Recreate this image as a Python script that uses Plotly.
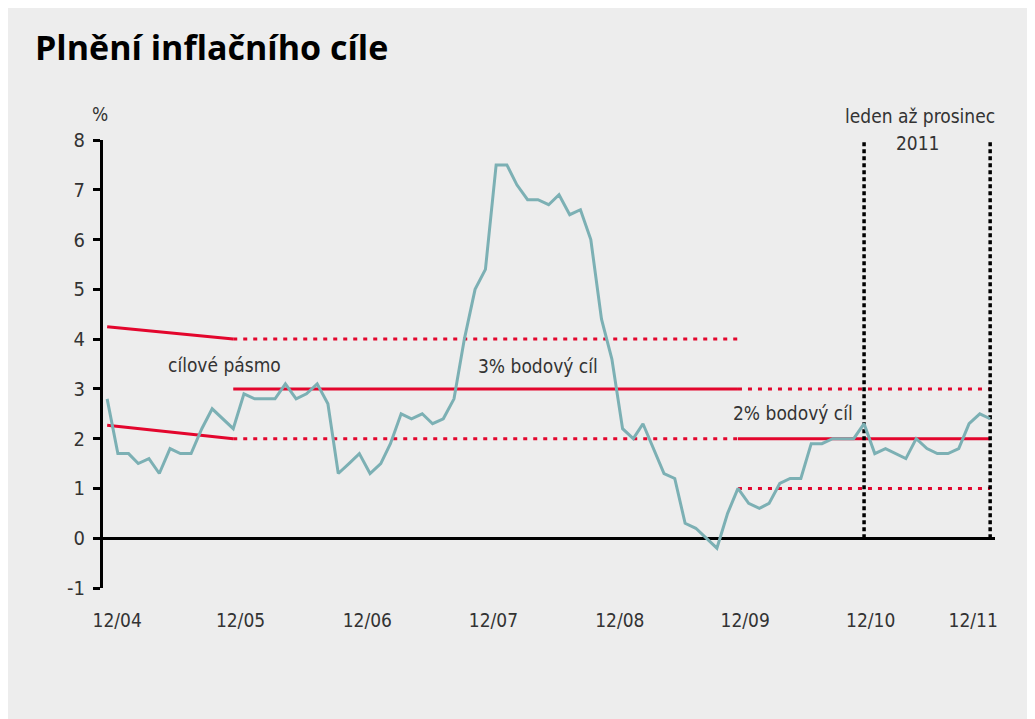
import plotly.graph_objects as go

# ---- data ----
months = ["2004-12-01"] + [f"{y}-{m:02d}-01" for y in range(2005, 2012) for m in range(1, 13)]
inflation = [2.8,
             1.7, 1.7, 1.5, 1.6, 1.3, 1.8, 1.7, 1.7, 2.2, 2.6, 2.4, 2.2,
             2.9, 2.8, 2.8, 2.8, 3.1, 2.8, 2.9, 3.1, 2.7, 1.3, 1.5, 1.7,
             1.3, 1.5, 1.9, 2.5, 2.4, 2.5, 2.3, 2.4, 2.8, 4.0, 5.0, 5.4,
             7.5, 7.5, 7.1, 6.8, 6.8, 6.7, 6.9, 6.5, 6.6, 6.0, 4.4, 3.6,
             2.2, 2.0, 2.3, 1.8, 1.3, 1.2, 0.3, 0.2, 0.0, -0.2, 0.5, 1.0,
             0.7, 0.6, 0.7, 1.1, 1.2, 1.2, 1.9, 1.9, 2.0, 2.0, 2.0, 2.3,
             1.7, 1.8, 1.7, 1.6, 2.0, 1.8, 1.7, 1.7, 1.8, 2.3, 2.5, 2.4]

# target band segments: (start value, end value, style) between consecutive band_dates
band_dates = ["2004-12-01", "2005-12-01", "2009-12-01", "2011-12-01"]
band_upper = [(4.25, 4.0, "solid"), (4.0, 4.0, "dot"), (3.0, 3.0, "dot")]
band_mid = [(None, None, None), (3.0, 3.0, "solid"), (2.0, 2.0, "solid")]
band_lower = [(2.27, 2.0, "solid"), (2.0, 2.0, "dot"), (1.0, 1.0, "dot")]

period_marks = ["2010-12-01", "2011-12-01"]

tick_vals = ["2004-12-30", "2005-12-22", "2006-12-24", "2007-12-24",
             "2008-12-24", "2009-12-22", "2010-12-20", "2011-10-13"]
tick_text = ["12/04", "12/05", "12/06", "12/07", "12/08", "12/09", "12/10", "12/11"]
y_ticks = [-1, 0, 1, 2, 3, 4, 5, 6, 7, 8]
y_tick_text = ["-1", "0", "1", "2", "3", "4", "5", "6", "7", "8"]

RED = "#e3062d"
TEAL = "#7cb0b4"
TXT = "#333333"
BG = "#ededed"
LABEL_FONT = "Liberation Sans Narrow, DejaVu Sans Condensed, Arial Narrow, sans-serif"

fig = go.Figure()

for series in (band_upper, band_mid, band_lower):
    for i, (a, b, style) in enumerate(series):
        if a is None:
            continue
        fig.add_trace(go.Scatter(
            x=[band_dates[i], band_dates[i + 1]], y=[a, b], mode="lines",
            line=dict(color=RED, width=3, dash="solid" if style == "solid" else "4px,6px"),
            hoverinfo="skip", showlegend=False))

for d in period_marks:
    fig.add_trace(go.Scatter(
        x=[d, d], y=[0, 8], mode="lines",
        line=dict(color="black", width=3.5, dash="4px,3px"),
        hoverinfo="skip", showlegend=False))

fig.add_trace(go.Scatter(
    x=months, y=inflation, mode="lines",
    line=dict(color=TEAL, width=3), showlegend=False))

W, H = 1027, 711
L, R, T, B = 95, 40, 132, 131
PW, PH = W - L - R, H - T - B

fig.update_layout(
    width=W, height=H,
    margin=dict(l=L, r=R, t=T, b=B),
    paper_bgcolor=BG, plot_bgcolor=BG,
    showlegend=False,
    title=dict(text="<b>Plnění inflačního cíle</b>", x=27 / W, xanchor="left",
               y=1 - 40 / H, yanchor="middle",
               font=dict(family="Open Sans, Noto Sans, sans-serif", size=34, color="black")),
    xaxis=dict(range=["2004-11-19", "2011-12-15"], showgrid=False, zeroline=False,
               showline=False, tickmode="array", tickvals=tick_vals, ticktext=tick_text,
               ticks="outside", ticklen=15, tickcolor="rgba(0,0,0,0)",
               tickfont=dict(family=LABEL_FONT, size=19, color=TXT)),
    yaxis=dict(range=[-1, 8], showgrid=False, zeroline=True, zerolinecolor="black",
               zerolinewidth=3, showline=True, linecolor="black", linewidth=3,
               tickmode="array", tickvals=y_ticks, ticktext=y_tick_text,
               ticks="outside", ticklen=7, tickwidth=3, tickcolor="black",
               ticklabelstandoff=4,
               tickfont=dict(family=LABEL_FONT, size=20, color=TXT)),
)

ann_font = dict(family=LABEL_FONT, size=19, color=TXT)
fig.add_annotation(x="2005-11-07", y=3.48, text="cílové pásmo", showarrow=False, font=ann_font)
fig.add_annotation(x="2008-05-01", y=3.46, text="3% bodový cíl", showarrow=False, font=ann_font)
fig.add_annotation(x="2010-05-10", y=2.51, text="2% bodový cíl", showarrow=False, font=ann_font)
fig.add_annotation(x="2011-05-11", xref="x", y=1 + 37 / PH, yref="paper",
                   text="leden až prosinec", showarrow=False, font=ann_font)
fig.add_annotation(x="2011-05-05", xref="x", y=1 + 10 / PH, yref="paper",
                   text="2011", showarrow=False, font=ann_font)
fig.add_annotation(x=-13 / PW, xref="paper", y=1 + 39 / PH, yref="paper",
                   text="%", showarrow=False, font=ann_font)

fig.write_html("out.html")
